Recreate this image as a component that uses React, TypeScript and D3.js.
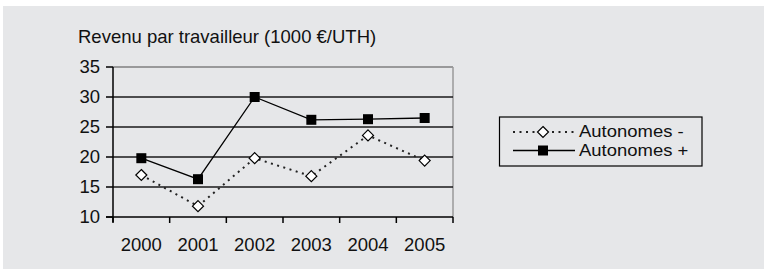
import React from 'react';
import * as d3 from 'd3';

// --- data ---
const years = ['2000', '2001', '2002', '2003', '2004', '2005'];
const autonomesMoins = [17.0, 11.8, 19.8, 16.8, 23.6, 19.4];
const autonomesPlus = [19.8, 16.3, 30.0, 26.2, 26.3, 26.5];
const yTicks = [10, 15, 20, 25, 30, 35];
const seriesNames = ['Autonomes -', 'Autonomes +'];
const title = 'Revenu par travailleur (1000 €/UTH)';

const W = 765;
const H = 272;
const FONT = 'Liberation Sans, Arial, sans-serif';
const FS = 18.5;

const Diamond: React.FC<{ x: number; y: number }> = ({ x, y }) => (
    <path d={`M${x},${y - 5.5}L${x + 5.5},${y}L${x},${y + 5.5}L${x - 5.5},${y}Z`}
        fill="#fff" stroke="#000" strokeWidth={1.2} />
);

const Square: React.FC<{ x: number; y: number }> = ({ x, y }) => (
    <rect x={x - 5} y={y - 5} width={10} height={10} fill="#000" />
);

export default function App() {
    const plot = { left: 113, right: 453, top: 67, bottom: 217 };

    const x = d3.scaleBand<string>().domain(years).range([plot.left, plot.right]);
    const y = d3.scaleLinear().domain([10, 35]).range([plot.bottom, plot.top]);
    const cx = (d: string) => (x(d) || 0) + x.bandwidth() / 2;

    const line = d3.line<number>().x((_, i) => cx(years[i])).y(v => y(v));

    const tickXs = years.map(d => x(d) || 0).concat([plot.right]);

    return (
        <svg width={W} height={H} style={{ position: 'absolute', left: 0, top: 0 }}
            fontFamily={FONT}>
            <rect x={0} y={0} width={W} height={H} fill="#fff" />
            <rect x={3} y={6} width={761} height={263} fill="#e6e7e9" />

            <text x={78} y={42.5} fontSize={FS} fill="#111">{title}</text>

            {/* plot frame */}
            <line x1={plot.left} x2={plot.right} y1={plot.top} y2={plot.top} stroke="#7f7f7f" strokeWidth={1.5} />
            <line x1={plot.right} x2={plot.right} y1={plot.top} y2={plot.bottom} stroke="#9a9a9a" strokeWidth={1.5} />

            {/* gridlines */}
            {yTicks.filter(t => t > 10 && t < 35).map(t => (
                <line key={t} x1={plot.left} x2={plot.right} y1={y(t)} y2={y(t)} stroke="#1a1a1a" strokeWidth={1.5} />
            ))}

            {/* y axis */}
            <line x1={plot.left} x2={plot.left} y1={plot.top} y2={plot.bottom + 5} stroke="#000" strokeWidth={1.5} />
            {yTicks.map(t => (
                <g key={t}>
                    <line x1={plot.left - 7} x2={plot.left} y1={y(t)} y2={y(t)} stroke="#000" strokeWidth={1.5} />
                    <text x={100} y={y(t)} dy="0.35em" textAnchor="end" fontSize={FS} fill="#111">{t}</text>
                </g>
            ))}

            {/* x axis */}
            <line x1={plot.left - 7} x2={plot.right} y1={plot.bottom} y2={plot.bottom} stroke="#000" strokeWidth={1.5} />
            {tickXs.map((tx, i) => (
                <line key={i} x1={tx} x2={tx} y1={plot.bottom} y2={plot.bottom + 6} stroke="#000" strokeWidth={1.5} />
            ))}
            {years.map(d => (
                <text key={d} x={cx(d)} y={250.5} textAnchor="middle" fontSize={FS} fill="#111">{d}</text>
            ))}

            {/* series */}
            <path d={line(autonomesMoins) || ''} fill="none" stroke="#222" strokeWidth={2} strokeDasharray="2,4.5" />
            <path d={line(autonomesPlus) || ''} fill="none" stroke="#000" strokeWidth={1.3} />
            {autonomesMoins.map((v, i) => <Diamond key={i} x={cx(years[i])} y={y(v)} />)}
            {autonomesPlus.map((v, i) => <Square key={i} x={cx(years[i])} y={y(v)} />)}

            {/* legend */}
            <rect x={499.5} y={117} width={202.5} height={49} fill="none" stroke="#000" strokeWidth={1.2} />
            <line x1={513} x2={575} y1={132} y2={132} stroke="#222" strokeWidth={2} strokeDasharray="2,4.5" />
            <Diamond x={543} y={132} />
            <text transform="translate(579,137) scale(1.12,1)" fontSize={16.5} fill="#111">{seriesNames[0]}</text>
            <line x1={513} x2={575} y1={150.5} y2={150.5} stroke="#000" strokeWidth={1.3} />
            <Square x={543} y={150.5} />
            <text transform="translate(579,156) scale(1.12,1)" fontSize={16.5} fill="#111">{seriesNames[1]}</text>
        </svg>
    );
}
